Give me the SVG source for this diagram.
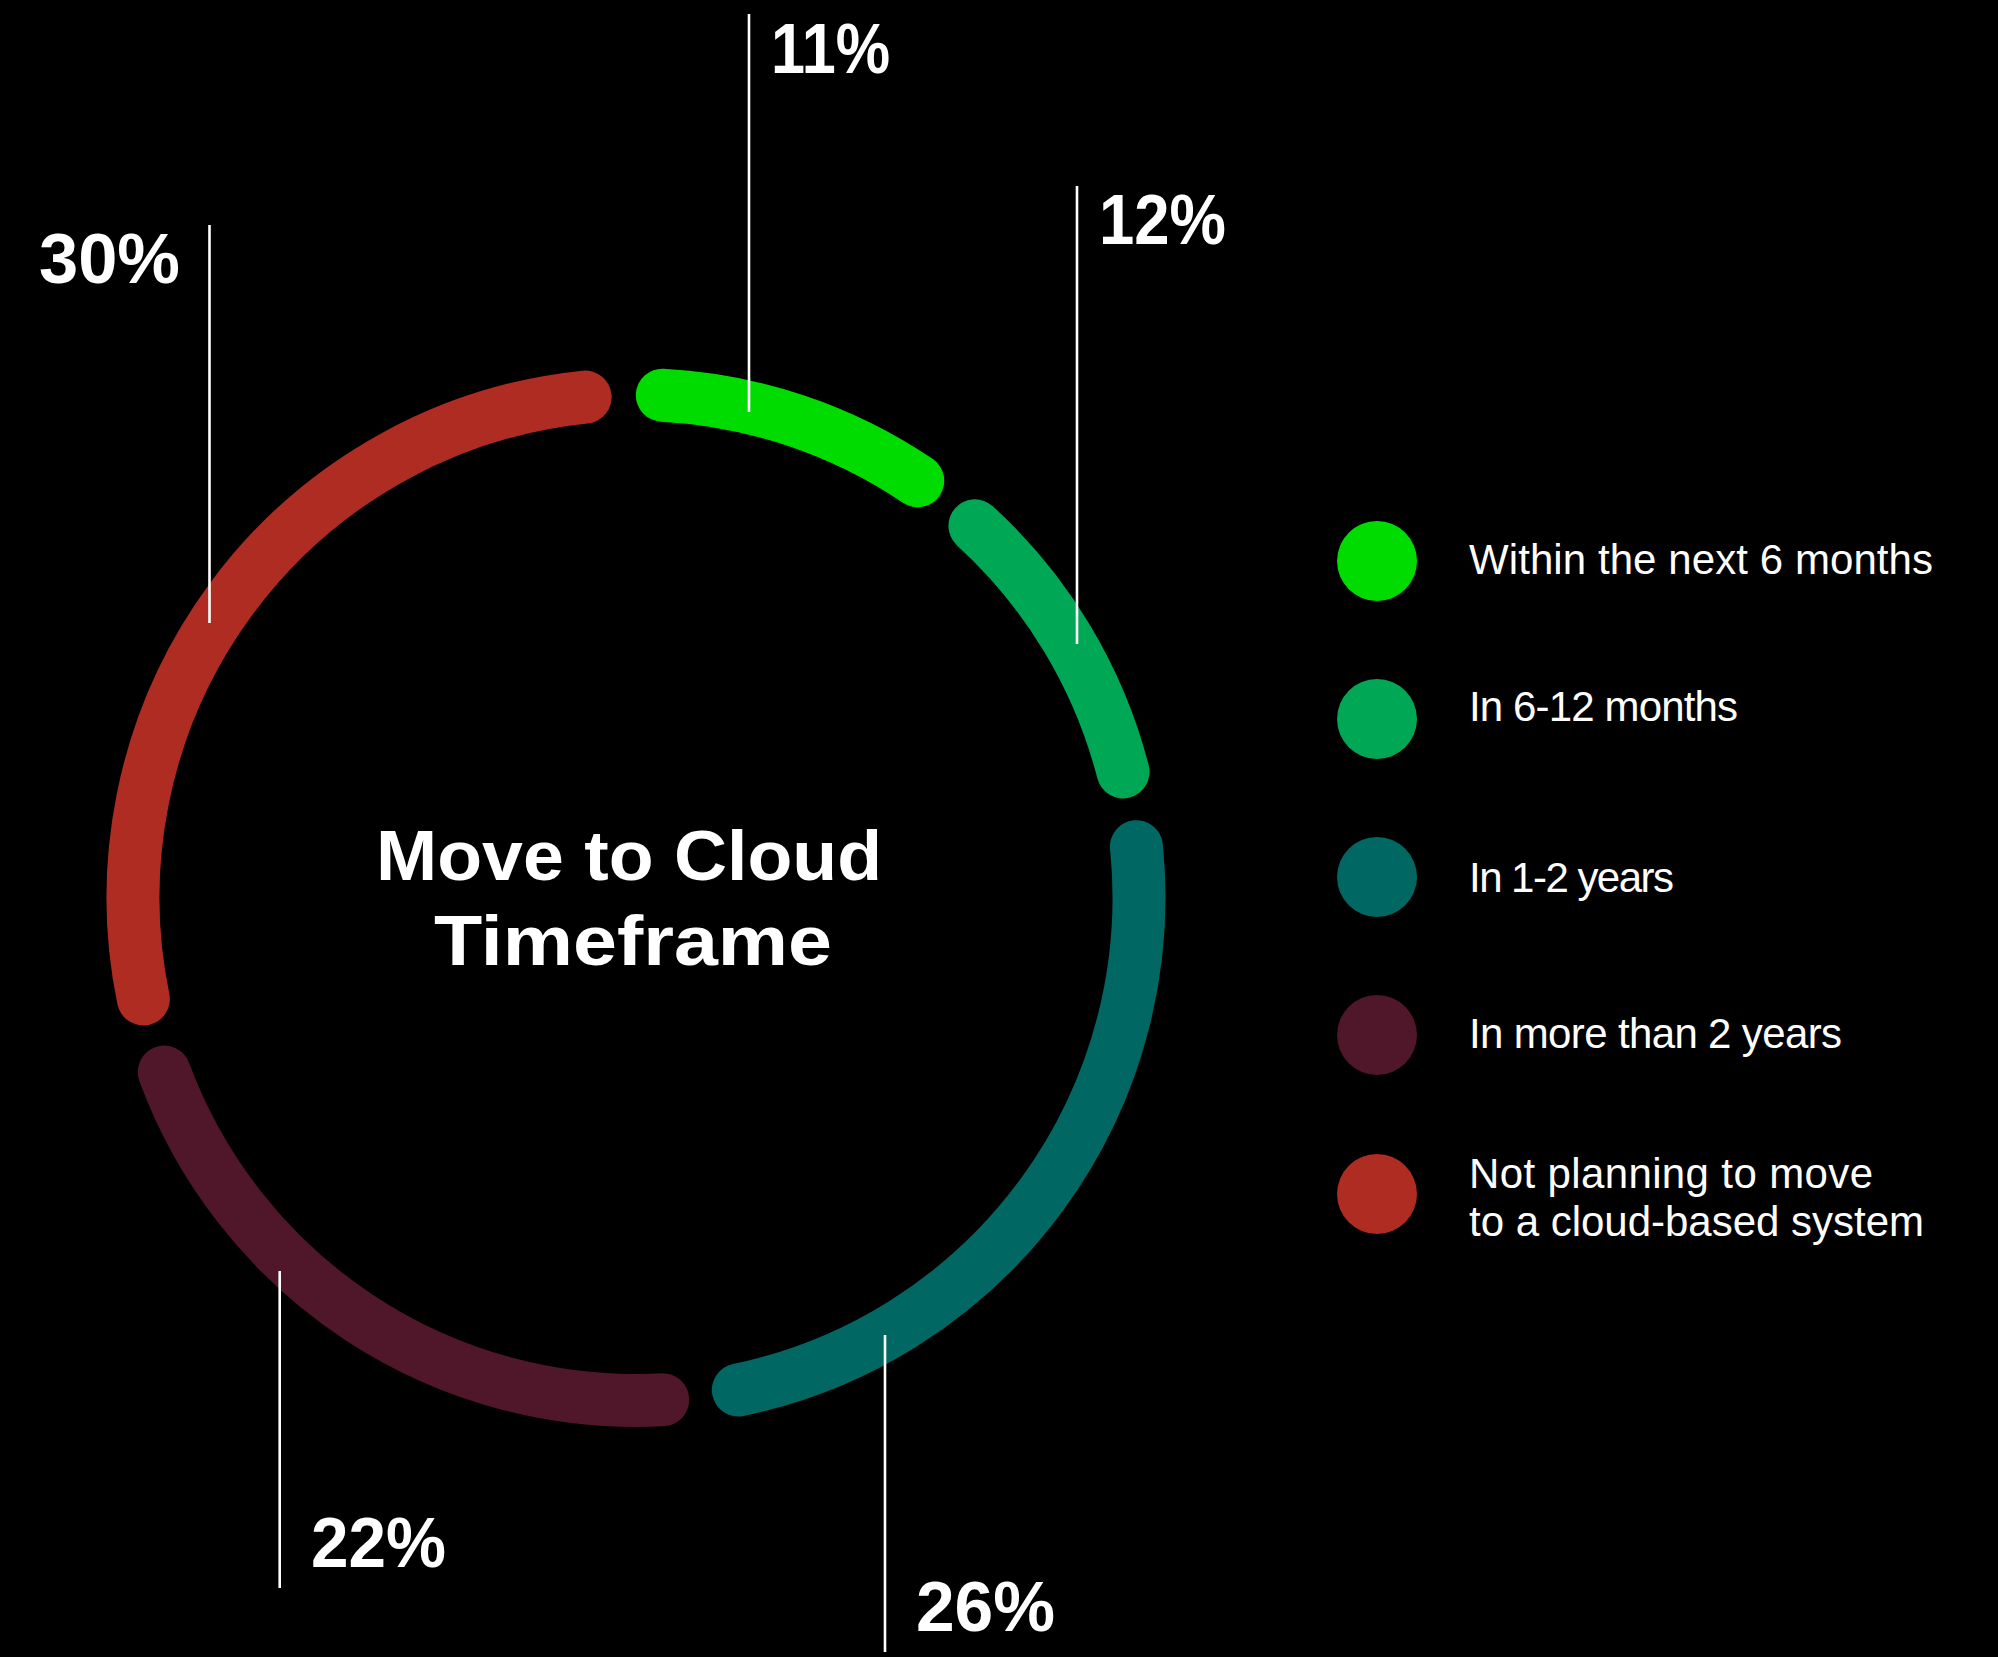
<svg xmlns="http://www.w3.org/2000/svg" width="1998" height="1657" viewBox="0 0 1998 1657">
<style>
.seg{fill:none;stroke-width:53;stroke-linecap:round}
.lead{stroke:#ffffff;stroke-width:2.6}
.pct{font-family:"Liberation Sans",Arial,sans-serif;font-weight:bold;font-size:71px;fill:#ffffff}
.title{font-family:"Liberation Sans",Arial,sans-serif;font-weight:bold;font-size:71px;fill:#ffffff}
.leg{font-family:"Liberation Sans",Arial,sans-serif;font-size:42px;fill:#ffffff}
</style>
<rect x="0" y="0" width="1998" height="1657" fill="#000000"/>
<g id="ring">
<path id="seg-6months" class="seg" stroke="#00DC00" d="M662.33,395.19 A503,503 0 0 1 917.75,480.81"/>
<path id="seg-6-12months" class="seg" stroke="#00A855" d="M974.92,525.83 A503,503 0 0 1 1123.06,771.90"/>
<path id="seg-1-2years" class="seg" stroke="#006763" d="M1136.43,846.67 A503,503 0 0 1 738.35,1389.98"/>
<path id="seg-more2years" class="seg" stroke="#50162A" d="M662.76,1399.79 A503,503 0 0 1 164.24,1072.01"/>
<path id="seg-notplanning" class="seg" stroke="#AE2C22" d="M143.35,998.98 A503,503 0 0 1 585.17,397.07"/>
</g>
<g id="connectors">
<line class="lead" x1="749" y1="14" x2="749" y2="412"/>
<line class="lead" x1="1077" y1="186" x2="1077" y2="644"/>
<line class="lead" x1="209.5" y1="225" x2="209.5" y2="623"/>
<line class="lead" x1="279.7" y1="1271" x2="279.7" y2="1588"/>
<line class="lead" x1="885" y1="1335" x2="885" y2="1652"/>
</g>
<g id="labels">
<text class="pct" x="771" y="72.5" textLength="119" lengthAdjust="spacingAndGlyphs">11%</text>
<text class="pct" x="1099" y="243.5" textLength="127" lengthAdjust="spacingAndGlyphs">12%</text>
<text class="pct" x="39" y="283.3" textLength="141" lengthAdjust="spacingAndGlyphs">30%</text>
<text class="pct" x="311" y="1567" textLength="135" lengthAdjust="spacingAndGlyphs">22%</text>
<text class="pct" x="916" y="1631" textLength="139" lengthAdjust="spacingAndGlyphs">26%</text>
</g>
<g id="title">
<text class="title" x="376" y="880" textLength="506" lengthAdjust="spacingAndGlyphs">Move to Cloud</text>
<text class="title" x="434" y="965" textLength="398" lengthAdjust="spacingAndGlyphs">Timeframe</text>
</g>
<g id="legend-6months">
<circle cx="1377" cy="561" r="40" fill="#00DC00"/>
<text class="leg" x="1469" y="574" textLength="464">Within the next 6 months</text>
</g>
<g id="legend-6-12months">
<circle cx="1377" cy="719" r="40" fill="#00A855"/>
<text class="leg" x="1469" y="721" textLength="269">In 6-12 months</text>
</g>
<g id="legend-1-2years">
<circle cx="1377" cy="877" r="40" fill="#006763"/>
<text class="leg" x="1469" y="892" textLength="205">In 1-2 years</text>
</g>
<g id="legend-more2years">
<circle cx="1377" cy="1035" r="40" fill="#50162A"/>
<text class="leg" x="1469" y="1048" textLength="373">In more than 2 years</text>
</g>
<g id="legend-notplanning">
<circle cx="1377" cy="1194" r="40" fill="#AE2C22"/>
<text class="leg" x="1469" y="1188" textLength="404">Not planning to move</text>
<text class="leg" x="1469" y="1236" textLength="455">to a cloud-based system</text>
</g>
</svg>
